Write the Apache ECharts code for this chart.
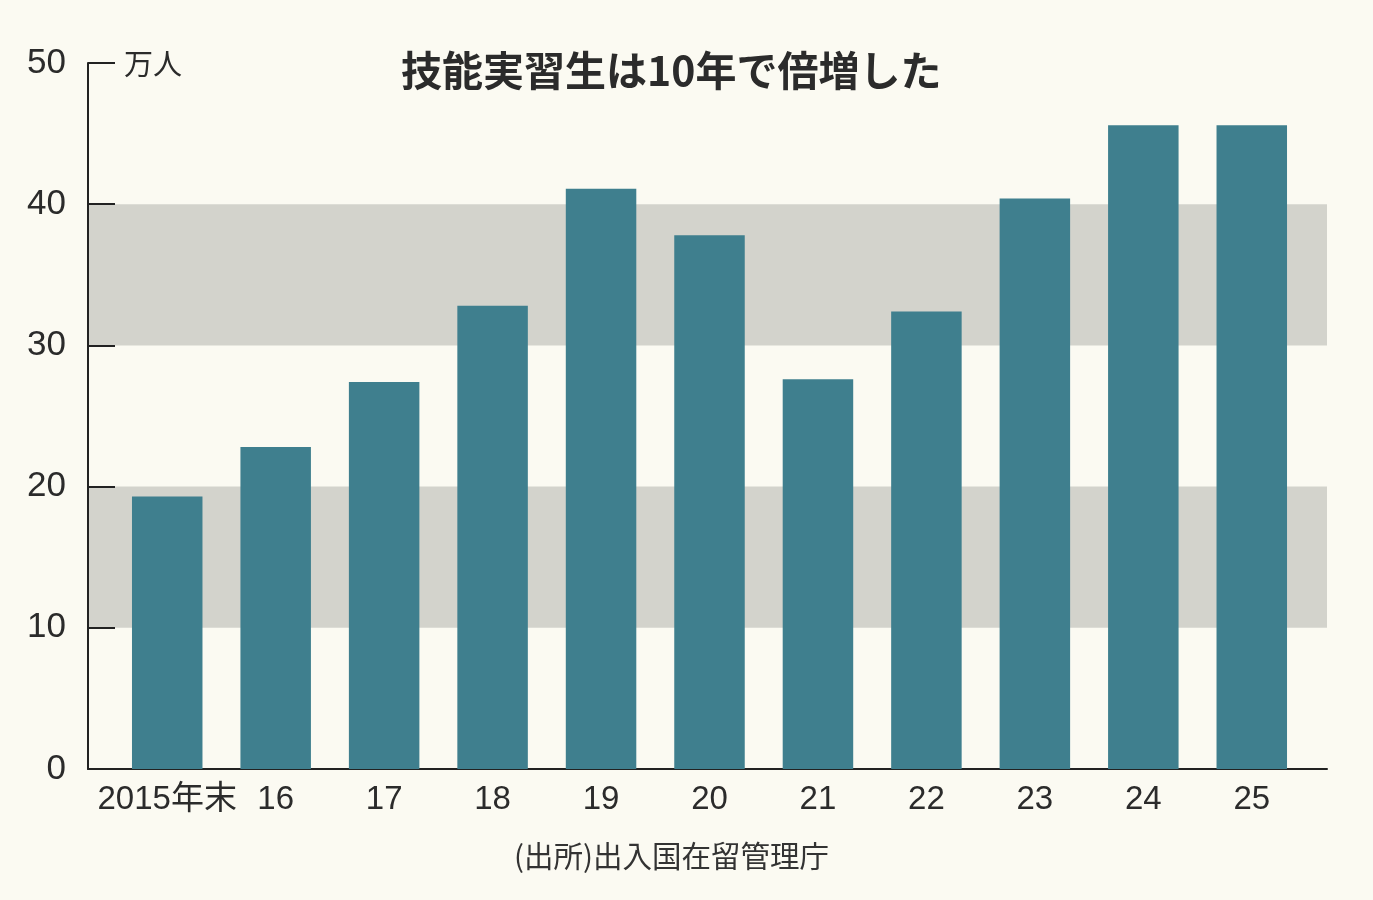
<!DOCTYPE html>
<html>
<head>
<meta charset="utf-8">
<script src="https://cdn.jsdelivr.net/npm/echarts@6/dist/echarts.min.js"></script>
<style>
html,body{margin:0;padding:0;background:#fbfaf2;}
#chart{width:1373px;height:900px;}
</style>
</head>
<body>
<div id="chart"></div>
<script>
const categories = ['2015年末','16','17','18','19','20','21','22','23','24','25'];
const values = [19.3, 22.8, 27.4, 32.8, 41.1, 37.8, 27.6, 32.4, 40.4, 45.6, 45.6];
const yTicks = [0, 10, 20, 30, 40, 50];
const titleText = '技能実習生は10年で倍増した';
const unitText = '万人';
const sourceText = '(出所)出入国在留管理庁';

const numFont = '"Liberation Sans", "Noto Sans CJK JP", sans-serif';
const cjkFont = '"Noto Sans CJK JP", sans-serif';

const chart = echarts.init(document.getElementById('chart'));
chart.setOption({
  backgroundColor: '#fbfaf2',
  animation: false,
  title: [
    { text: titleText, left: 396, top: 43,
      textStyle: { fontFamily: cjkFont, fontSize: 41, fontWeight: 'bold', color: '#2b2b2b', lineHeight: 44 } },
    { text: unitText, left: 119, top: 43,
      textStyle: { fontFamily: cjkFont, fontSize: 29, fontWeight: 'normal', color: '#2b2b2b', lineHeight: 32 } },
    { text: sourceText, left: 509, top: 835,
      textStyle: { fontFamily: cjkFont, fontSize: 29.5, fontWeight: 'normal', color: '#333', lineHeight: 32 } }
  ],
  grid: [
    { left: 88, right: 46, top: 63, bottom: 131 },
    { left: 113, right: 67, top: 63, bottom: 131 }
  ],
  xAxis: [
    { type: 'value', gridIndex: 0, min: 0, max: 1,
      axisLine: { show: true, onZero: false, lineStyle: { color: '#222', width: 2 } },
      axisTick: { show: false }, axisLabel: { show: false }, splitLine: { show: false } },
    { type: 'category', gridIndex: 1, data: categories,
      axisLine: { show: false }, axisTick: { show: false },
      axisLabel: { interval: 0, margin: 14, fontSize: 33, fontFamily: numFont, color: '#2b2b2b' } }
  ],
  yAxis: [
    { type: 'value', gridIndex: 0, min: yTicks[0], max: yTicks[yTicks.length - 1], interval: 10,
      axisLine: { show: true, lineStyle: { color: '#222', width: 2 } },
      axisTick: { show: true, inside: true, length: 27, lineStyle: { color: '#222', width: 2 } },
      axisLabel: { margin: 22, fontSize: 35, fontFamily: numFont, color: '#2b2b2b' },
      splitLine: { show: false },
      splitArea: { show: true, areaStyle: { color: ['rgba(0,0,0,0)', '#d3d3cc'] } } },
    { type: 'value', gridIndex: 1, min: yTicks[0], max: yTicks[yTicks.length - 1], show: false,
      splitLine: { show: false } }
  ],
  series: [
    { type: 'bar', xAxisIndex: 1, yAxisIndex: 1, data: values, barWidth: '65%',
      itemStyle: { color: '#3f7f8e' } }
  ]
});
</script>
</body>
</html>
